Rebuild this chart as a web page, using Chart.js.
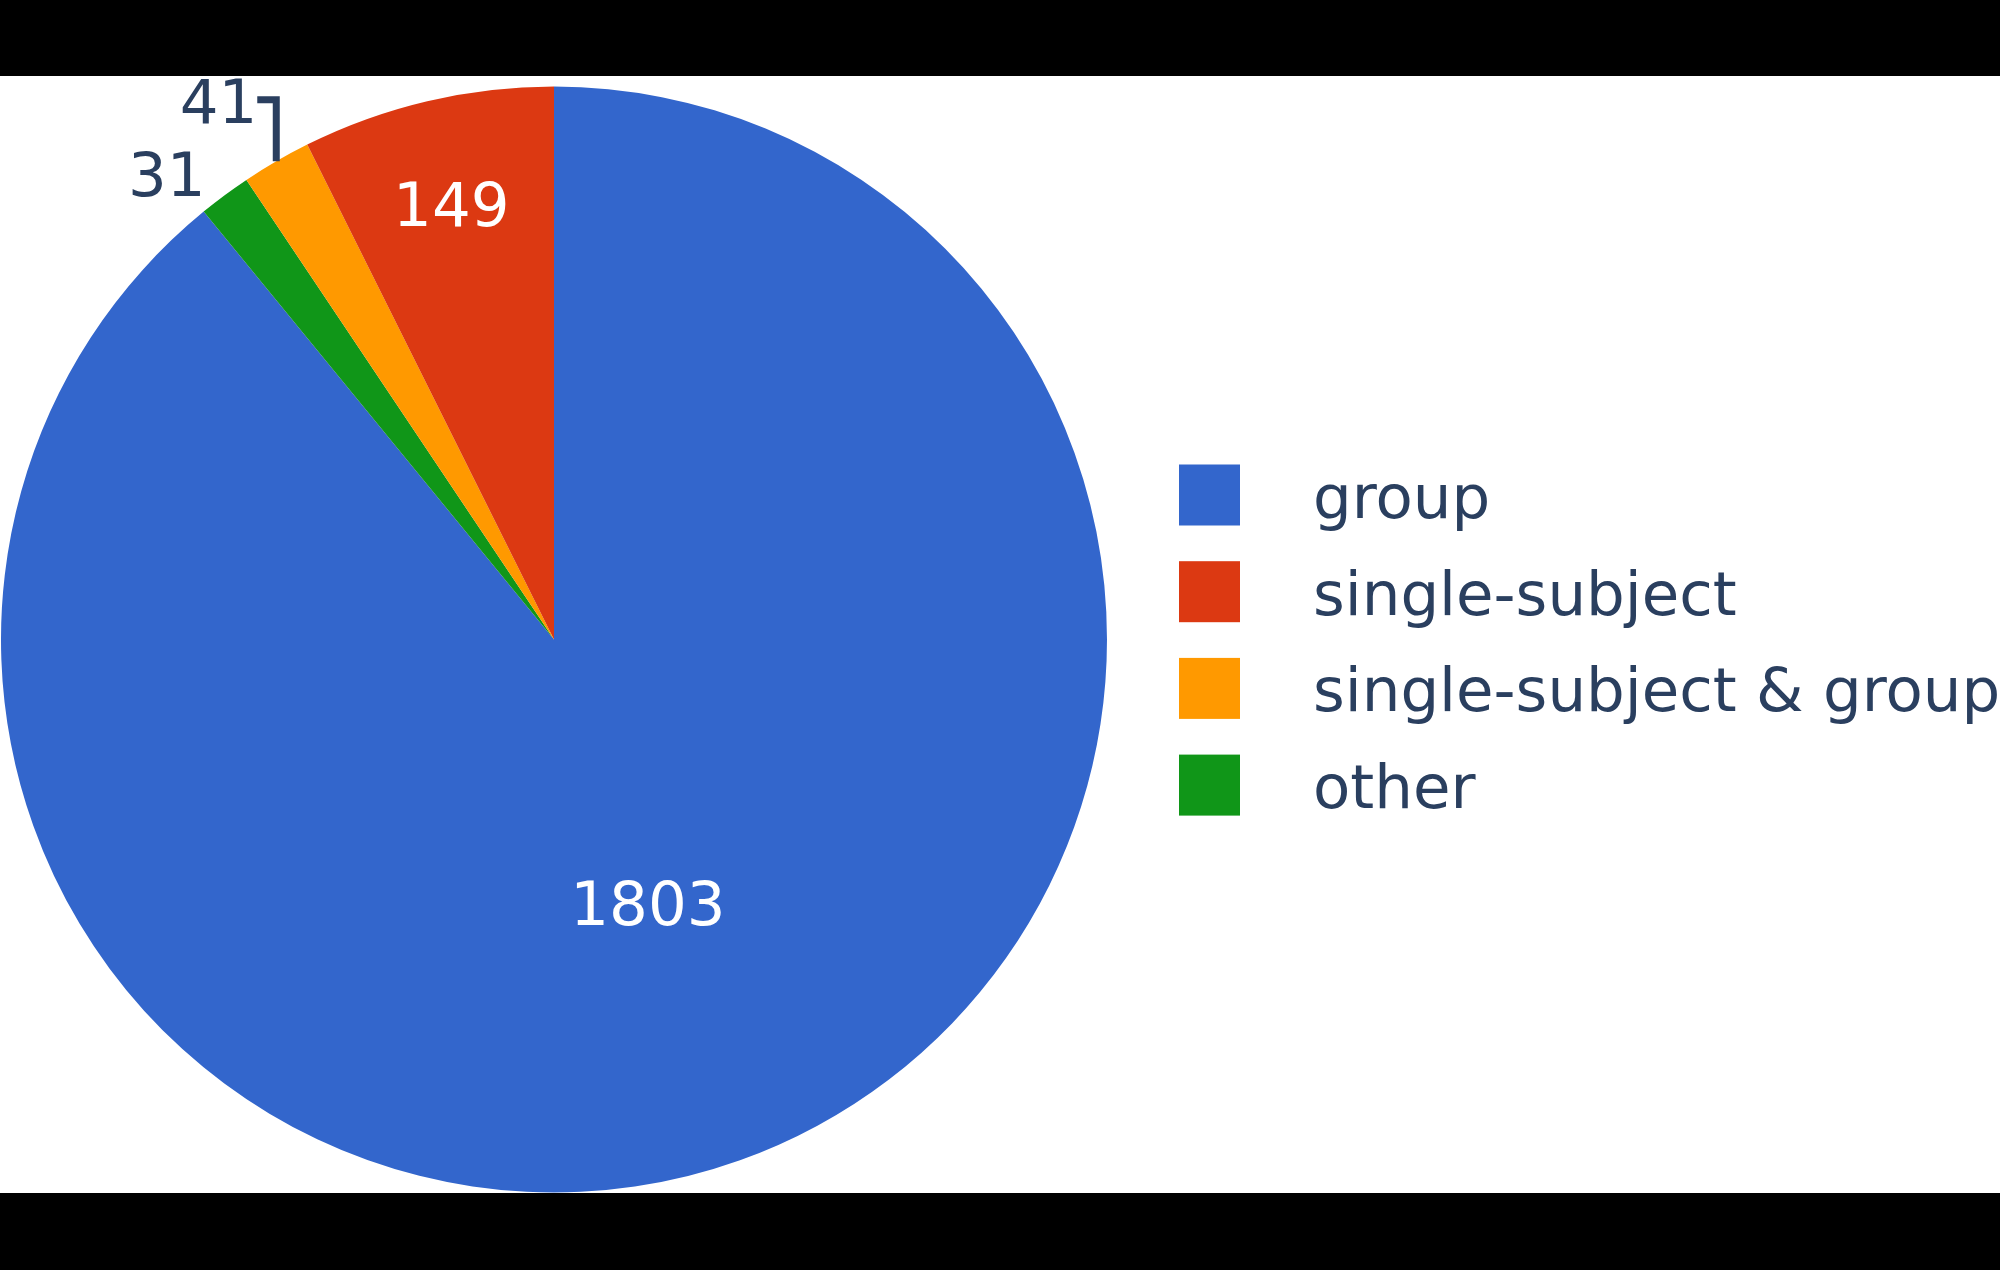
<!DOCTYPE html>
<html>
<head>
<meta charset="utf-8">
<script src="https://cdn.jsdelivr.net/npm/chart.js@4.4.1/dist/chart.umd.min.js"></script>
<style>
  html, body { margin: 0; padding: 0; background: #000; }
  #wrap { width: 2000px; height: 1270px; }
</style>
</head>
<body>
<div id="wrap"><canvas id="pieChart" width="2000" height="1270"></canvas></div>
<script>
// Legend order (as in the reference)
const categories = ['group', 'single-subject', 'single-subject & group', 'other'];
const counts = [1803, 149, 41, 31];
const sliceColors = ['#3366cc', '#dc3912', '#ff9900', '#109618'];

// Slices run clockwise from 12 o'clock: group first, then the rest in reverse
const drawOrder = [0, ...categories.map((_, i) => i).slice(1).reverse()];

const textColor = '#2a3f5f';
const fontFamily = '"DejaVu Sans", Verdana, sans-serif';
const fontSize = 61;

// White plot area with black bands above and below
const bandsPlugin = {
  id: 'bands',
  beforeDraw(chart) {
    const ctx = chart.ctx;
    ctx.save();
    ctx.fillStyle = '#fff';
    ctx.fillRect(0, 0, chart.width, chart.height);
    ctx.restore();
  },
  afterDraw(chart) {
    const ctx = chart.ctx;
    ctx.save();
    ctx.fillStyle = '#000';
    ctx.fillRect(0, 0, chart.width, 76);
    ctx.fillRect(0, 1193, chart.width, chart.height - 1193);
    ctx.restore();
  }
};

// Slice value labels: inside (white) for wide slices, outside with leader for thin ones
const sliceLabelsPlugin = {
  id: 'sliceLabels',
  afterDatasetsDraw(chart) {
    const ctx = chart.ctx;
    const meta = chart.getDatasetMeta(0);
    const values = chart.data.datasets[0].data;
    ctx.save();
    ctx.font = fontSize + 'px ' + fontFamily;
    const digitHalf = 0.3645 * fontSize;
    let prevBaseline = null;
    // going clockwise, the lowest outside label on the left side comes first
    for (let i = 0; i < meta.data.length; i++) {
      const arc = meta.data[i];
      const { x, y, startAngle, endAngle, outerRadius } = arc.getProps(['x', 'y', 'startAngle', 'endAngle', 'outerRadius'], true);
      const mid = (startAngle + endAngle) / 2;
      const span = endAngle - startAngle;
      const text = String(values[i]);
      if (span > 0.25) {
        const frac = span > Math.PI ? 0.505 : 0.81;
        const cx = x + Math.cos(mid) * outerRadius * frac;
        const cy = y + Math.sin(mid) * outerRadius * frac;
        ctx.fillStyle = '#fff';
        ctx.textAlign = 'center';
        ctx.textBaseline = 'alphabetic';
        ctx.fillText(text, cx, cy + digitHalf);
      } else {
        const ex = x + Math.cos(mid) * outerRadius;
        const ey = y + Math.sin(mid) * outerRadius;
        const tx = ex - 19;
        let baseline = ey + 1;
        let shifted = false;
        if (prevBaseline !== null && baseline > prevBaseline - 1.2 * fontSize) {
          baseline = prevBaseline - 1.2 * fontSize;
          shifted = true;
        }
        ctx.fillStyle = textColor;
        ctx.textAlign = 'right';
        ctx.textBaseline = 'alphabetic';
        ctx.fillText(text, tx, baseline);
        if (shifted) {
          const ly = baseline - digitHalf - 1;
          ctx.strokeStyle = textColor;
          ctx.lineWidth = 7;
          ctx.lineJoin = 'miter';
          ctx.beginPath();
          ctx.moveTo(ex, ey);
          ctx.lineTo(ex, ly);
          ctx.lineTo(tx, ly);
          ctx.stroke();
        }
        prevBaseline = baseline;
      }
    }
    ctx.restore();
  }
};

// Legend on the right, in category order
const sideLegendPlugin = {
  id: 'sideLegend',
  afterDraw(chart) {
    const ctx = chart.ctx;
    const boxX = 1179, box = 61, textX = 1313, firstRow = 495, rowGap = 96.7;
    ctx.save();
    ctx.font = fontSize + 'px ' + fontFamily;
    ctx.textAlign = 'left';
    ctx.textBaseline = 'alphabetic';
    categories.forEach((name, i) => {
      const cy = firstRow + i * rowGap;
      ctx.fillStyle = sliceColors[i];
      ctx.fillRect(boxX, cy - box / 2, box, box);
      ctx.fillStyle = textColor;
      ctx.fillText(name, textX, cy + 23);
    });
    ctx.restore();
  }
};

new Chart(document.getElementById('pieChart'), {
  type: 'pie',
  data: {
    labels: drawOrder.map(i => categories[i]),
    datasets: [{
      data: drawOrder.map(i => counts[i]),
      backgroundColor: drawOrder.map(i => sliceColors[i]),
      borderWidth: 0
    }]
  },
  options: {
    responsive: false,
    animation: false,
    devicePixelRatio: 1,
    layout: {
      padding: { left: 1, right: 893, top: 86, bottom: 77 }
    },
    plugins: {
      legend: { display: false },
      tooltip: { enabled: false }
    }
  },
  plugins: [bandsPlugin, sliceLabelsPlugin, sideLegendPlugin]
});
</script>
</body>
</html>
